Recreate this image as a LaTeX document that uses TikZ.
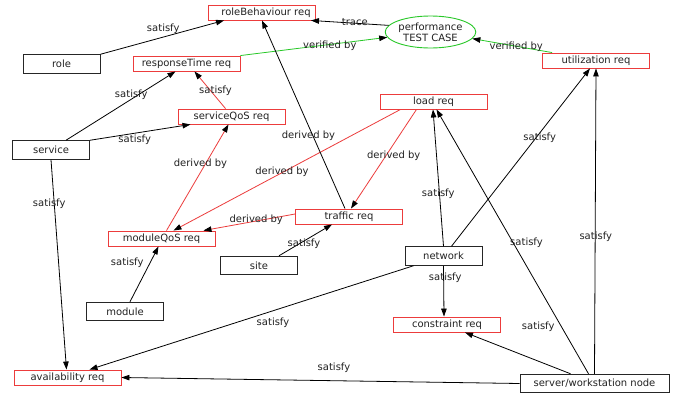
\documentclass[tikz,border=0pt]{standalone}
\usepackage{fontspec}
\setmainfont{DejaVu Sans}
\usetikzlibrary{arrows.meta,shapes.geometric}
\definecolor{reqred}{RGB}{236,60,60}
\definecolor{tgreen}{RGB}{40,200,40}
\definecolor{txt}{RGB}{34,34,34}
\begin{document}
\begin{tikzpicture}[x=1pt,y=-1pt,
  font=\fontsize{10}{11}\selectfont,
  req/.style={draw=reqred, line width=0.9pt, minimum width=107pt, minimum height=15pt, inner sep=0pt, text=txt},
  blk/.style={draw=black!85, line width=1pt, minimum width=77pt, minimum height=18.5pt, inner sep=0pt, text=txt},
  tc/.style={ellipse, draw=tgreen, line width=0.9pt, minimum width=78pt, minimum height=32pt, inner sep=0pt, align=center, text=txt},
  link/.style={line width=0.8pt, -{Triangle[length=8pt,width=5.5pt,color=black]}},
  redlink/.style={link, draw=reqred},
  greenlink/.style={link, draw=tgreen},
  lbl/.style 2 args={pos=.5, text=txt, inner sep=0pt, xshift=#1pt, yshift=-1pt*(#2)},
]
\useasboundingbox[fill=white] (0,0) rectangle (678,394);

% requirements and the test case
\node[req] (rb)   at (262,12.5)   {\hspace{8pt}roleBehaviour req};
\node[tc]  (perf) at (430.5,32)   {performance\\TEST CASE};
\node[req] (rt)   at (186.5,63.5) {responseTime req};
\node[req] (util) at (596,60.5)   {utilization req};
\node[req] (load) at (433.5,101.5){load req};
\node[req] (sq)   at (231.5,116.5){serviceQoS req};
\node[req] (tr)   at (349,216.5)  {traffic req};
\node[req] (mq)   at (161.5,238.5){moduleQoS req};
\node[req] (con)  at (447,324.5)  {constraint req};
\node[req] (av)   at (67.5,377.5) {availability req};

% model elements
\node[blk] (role) at (61.5,64)    {role};
\node[blk] (svc)  at (51,150)     {service};
\node[blk] (site) at (259,265.5)  {site};
\node[blk] (net)  at (443.5,256)  {network};
\node[blk] (mod)  at (125,311.5)  {module};
\node[blk, minimum width=149pt] (srv) at (594.5,383.5) {server/workstation node};

% relations
\draw[link] (role.north east) -- ([xshift=-38pt]rb.south) node[lbl={1}{-8.5}]{satisfy};
\draw[link] (perf.171) -- ([xshift=-5pt]rb.south east) node[lbl={5}{-1}]{trace};
\draw[greenlink] (rt.north east) -- (perf.187) node[lbl={16}{-0.5}]{verified by};
\draw[greenlink] ([xshift=10pt]util.north west) -- (perf.351) node[lbl={4}{1.5}]{verified by};
\draw[link] ([xshift=15pt]svc.north) -- ([xshift=-11pt]rt.south) node[lbl={10.5}{-11}]{satisfy};
\draw[redlink] ([xshift=-6pt]sq.north) -- ([xshift=8pt]rt.south) node[lbl={5.5}{1}]{satisfy};
\draw[link] (svc.north east) -- ([xshift=-41pt]sq.south) node[lbl={-5.5}{7}]{satisfy};
\draw[redlink] ([xshift=5pt]mq.north) -- ([xshift=-3pt]sq.south) node[lbl={3}{-13.5}]{derived by};
\draw[redlink] ([xshift=-33pt]load.south) -- ([xshift=12pt]mq.north) node[lbl={-5}{1.5}]{derived by};
\draw[redlink] ([xshift=-17pt]load.south) -- ([xshift=2pt]tr.north) node[lbl={10}{-3}]{derived by};
\draw[link] ([xshift=-4pt]tr.north) -- (rb.south) node[lbl={5}{21.5}]{derived by};
\draw[redlink] ([yshift=2.5pt]tr.west) -- ([xshift=-12pt]mq.north east) node[lbl={7}{-2.5}]{derived by};
\draw[link] ([xshift=20pt]site.north) -- ([xshift=-17pt]tr.south) node[lbl={-1.5}{4}]{satisfy};
\draw[link] ([xshift=5pt]mod.north) -- ([xshift=-3pt]mq.south) node[lbl={-17}{-11}]{satisfy};
\draw[link] (net.north) -- ([xshift=-0.5pt]load.south) node[lbl={0}{16}]{satisfy};
\draw[link] ([xshift=8pt]net.north) -- ([xshift=-6pt]util.south) node[lbl={19}{-19.5}]{satisfy};
\draw[link] (net.south) -- ([xshift=-3pt]con.north) node[lbl={1.5}{-13}]{satisfy};
\draw[link] ([xshift=-30pt]net.south) -- ([xshift=22pt]av.north) node[lbl={21.5}{5.5}]{satisfy};
\draw[link] (svc.south) -- ([xshift=-1pt]av.north) node[lbl={-9.5}{-60.5}]{satisfy};
\draw[link] (srv.north) -- (util.south) node[lbl={0.5}{16}]{satisfy};
\draw[link] ([xshift=-6pt]srv.north) -- ([xshift=3pt]load.south) node[lbl={14}{1.5}]{satisfy};
\draw[link] ([xshift=-24pt]srv.north) -- ([xshift=18pt]con.south) node[lbl={20.5}{-26}]{satisfy};
\draw[link] (srv.west) -- (av.east) node[lbl={13.5}{-12.5}]{satisfy};
\end{tikzpicture}
\end{document}
